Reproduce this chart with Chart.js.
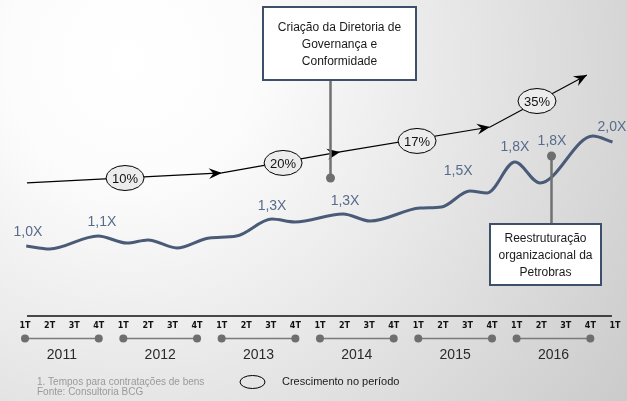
<!DOCTYPE html>
<html><head><meta charset="utf-8">
<script src="https://cdn.jsdelivr.net/npm/chart.js@4/dist/chart.umd.min.js"></script>
<style>html,body{margin:0;padding:0;background:#fff;overflow:hidden}canvas{display:block}</style>
</head><body>
<canvas id="c" width="627" height="401"></canvas>
<script>
// ---- DATA (x = quarters since 1T 2011, y = index, 1T 2011 = 1,0X) ----
const quarterLabels = ['1T','2T','3T','4T'];
const years = ['2011','2012','2013','2014','2015','2016'];
const lineQuarters = [0.05, 1.0, 2.97, 4.15, 5.0, 6.18, 7.5, 8.6, 10.05, 10.98, 12.94, 14.04, 16.07, 16.95, 18.1, 18.8, 19.93, 20.95, 23.1, 23.9];
const lineValues   = [1.00, 0.973, 1.091, 1.027, 1.055, 0.982, 1.073, 1.09, 1.245, 1.218, 1.291, 1.227, 1.345, 1.355, 1.50, 1.482, 1.764, 1.573, 2.00, 1.945];
const valueLabels = ['1,0X','1,1X','1,3X','1,3X','1,5X','1,8X','1,8X','2,0X'];
const valueLabelQuarters = [0.12, 3.13, 10.05, 13.02, 17.62, 19.93, 21.44, 23.88];
const valueLabelValues   = [1.127, 1.218, 1.364, 1.409, 1.682, 1.90, 1.955, 2.082];
const growthQuarters = [0.08, 8.01, 12.82, 18.92, 22.86];
const growthValues   = [1.573, 1.664, 1.855, 2.082, 2.555];
const growthRates = ['10%','20%','17%','35%'];
const growthLabelQuarters = [4.07, 10.5, 15.95, 20.83];
const growthLabelValues   = [1.618, 1.755, 1.955, 2.318];
const eventQuarters = [12.41, 21.4];
const eventTexts = [['Criação da Diretoria de','Governança e','Conformidade'],['Reestruturação','organizacional da','Petrobras']];
const footnotes = ['1. Tempos para contratações de bens','Fonte: Consultoria BCG'];
const legendText = 'Crescimento no período';

// ---- LAYOUT / STYLE ----
const FONT = '"Liberation Sans", Arial, sans-serif';
const PX_PER_Q = 24.58, X0 = 25;
const X_MIN = -X0 / PX_PER_Q, X_MAX = X_MIN + 627 / PX_PER_Q;
const Y_MAX = 1 + 246 / 110, Y_MIN = 1 - 155 / 110;
const eventLayout = [
  {dotY: 178, stickEnd: 80, box: {l: 263, t: 7, w: 153, h: 73}, lineY: [28, 45, 62]},
  {dotY: 156, stickEnd: 224, box: {l: 490, t: 224, w: 111, h: 61}, lineY: [239, 256, 273]}
];

const bgPlugin = {
  id: 'bg',
  beforeDraw(chart) {
    const c = chart.ctx;
    const g = c.createRadialGradient(130, 60, 0, 130, 60, 620);
    g.addColorStop(0, '#ffffff');
    g.addColorStop(0.2, '#fcfcfc');
    g.addColorStop(1, '#c9c9c9');
    c.save(); c.fillStyle = g; c.fillRect(0, 0, chart.width, chart.height); c.restore();
  }
};

function arrowHead(c, x, y, ang) {
  c.save(); c.translate(x, y); c.rotate(ang);
  c.beginPath(); c.moveTo(0, 0); c.lineTo(-13, -5.5); c.lineTo(-8.5, 0); c.lineTo(-13, 5.5); c.closePath();
  c.fillStyle = '#000'; c.fill(); c.restore();
}

const overlayPlugin = {
  id: 'overlay',
  afterDatasetsDraw(chart) {
    const c = chart.ctx, xs = chart.scales.x, ys = chart.scales.y;
    const px = q => xs.getPixelForValue(q), py = v => ys.getPixelForValue(v);
    c.save();
    // arrowheads
    for (let i = 1; i < growthQuarters.length; i++) {
      const x0 = px(growthQuarters[i-1]), y0 = py(growthValues[i-1]);
      const x1 = px(growthQuarters[i]), y1 = py(growthValues[i]);
      arrowHead(c, x1, y1, Math.atan2(y1 - y0, x1 - x0));
    }
    // growth ellipses
    growthRates.forEach((t, i) => {
      const x = px(growthLabelQuarters[i]), y = py(growthLabelValues[i]);
      c.beginPath(); c.ellipse(x, y, 19, 12.5, 0, 0, Math.PI * 2);
      c.fillStyle = '#ececec'; c.fill(); c.lineWidth = 1; c.strokeStyle = '#000'; c.stroke();
      c.fillStyle = '#111'; c.font = '13px ' + FONT; c.textAlign = 'center'; c.textBaseline = 'middle';
      c.fillText(t, x, y + 1);
    });
    // value labels
    c.font = '14px ' + FONT; c.fillStyle = '#586b8a'; c.textAlign = 'center'; c.textBaseline = 'middle';
    valueLabels.forEach((t, i) => c.fillText(t, px(valueLabelQuarters[i]), py(valueLabelValues[i])));
    // events
    eventTexts.forEach((lines, i) => {
      const L = eventLayout[i], x = Math.round(px(eventQuarters[i])) + 0.5;
      c.strokeStyle = '#717171'; c.lineWidth = 2.5;
      c.beginPath(); c.moveTo(x, L.dotY); c.lineTo(x, L.stickEnd); c.stroke();
      c.beginPath(); c.arc(x, L.dotY, 4.5, 0, Math.PI * 2); c.fillStyle = '#6e6e6e'; c.fill();
      const b = L.box;
      c.fillStyle = '#ffffff'; c.fillRect(b.l, b.t, b.w, b.h);
      c.strokeStyle = '#3e4f6b'; c.lineWidth = 2; c.strokeRect(b.l, b.t, b.w, b.h);
      c.fillStyle = '#1a1a1a'; c.font = '12px ' + FONT; c.textAlign = 'center'; c.textBaseline = 'middle';
      lines.forEach((s, k) => c.fillText(s, b.l + b.w / 2, L.lineY[k]));
    });
    // timeline
    c.strokeStyle = '#111'; c.lineWidth = 1.5;
    c.beginPath(); c.moveTo(px(0) + 2, 316); c.lineTo(px(24) - 3, 316); c.stroke();
    c.font = 'bold 8px "DejaVu Sans", sans-serif'; c.fillStyle = '#111'; c.textAlign = 'center'; c.textBaseline = 'middle';
    for (let q = 0; q <= years.length * 4; q++) c.fillText(quarterLabels[q % 4], px(q), 326);
    years.forEach((yr, i) => {
      const a = px(i * 4), b = px(i * 4 + 3);
      c.strokeStyle = '#7a7a7a'; c.lineWidth = 1.5;
      c.beginPath(); c.moveTo(a, 338.5); c.lineTo(b, 338.5); c.stroke();
      c.fillStyle = '#6e6e6e';
      [a, b].forEach(x => { c.beginPath(); c.arc(x, 338.5, 4, 0, Math.PI * 2); c.fill(); });
      c.fillStyle = '#2a2a2a'; c.font = '14px ' + FONT; c.textAlign = 'center'; c.textBaseline = 'middle';
      c.fillText(yr, (a + b) / 2, 355);
    });
    // footnotes
    c.fillStyle = '#9a9a9a'; c.font = '10px ' + FONT; c.textAlign = 'left'; c.textBaseline = 'middle';
    footnotes.forEach((t, i) => c.fillText(t, 37, 382 + i * 10));
    // legend
    c.beginPath(); c.ellipse(252.5, 382, 12.5, 6.5, 0, 0, Math.PI * 2);
    c.strokeStyle = '#000'; c.lineWidth = 1; c.stroke();
    c.fillStyle = '#1a1a1a'; c.font = '11px ' + FONT; c.fillText(legendText, 282, 382);
    c.restore();
  }
};

new Chart(document.getElementById('c').getContext('2d'), {
  type: 'line',
  data: {
    datasets: [
      {data: lineQuarters.map((q, i) => ({x: q, y: lineValues[i]})), borderColor: '#4a5b78', borderWidth: 3,
       pointRadius: 0, cubicInterpolationMode: 'monotone', fill: false},
      {data: growthQuarters.map((q, i) => ({x: q, y: growthValues[i]})), borderColor: '#000', borderWidth: 1.2,
       pointRadius: 0, tension: 0, fill: false}
    ]
  },
  options: {
    responsive: false, animation: false, devicePixelRatio: 1,
    layout: {padding: 0},
    plugins: {legend: {display: false}, tooltip: {enabled: false}},
    scales: {
      x: {type: 'linear', min: X_MIN, max: X_MAX, display: false},
      y: {type: 'linear', min: Y_MIN, max: Y_MAX, display: false}
    }
  },
  plugins: [bgPlugin, overlayPlugin]
});
</script>
</body></html>
